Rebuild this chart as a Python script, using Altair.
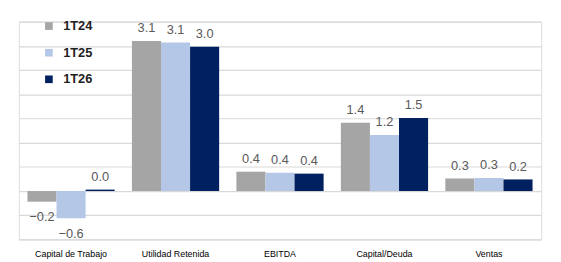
import altair as alt
import pandas as pd

categories = ["Capital de Trabajo", "Utilidad Retenida", "EBITDA", "Capital/Deuda", "Ventas"]
series = ["1T24", "1T25", "1T26"]
v_1t24 = [-0.22, 3.10, 0.40, 1.41, 0.26]
v_1t25 = [-0.56, 3.07, 0.38, 1.16, 0.27]
v_1t26 = [0.03, 2.98, 0.36, 1.51, 0.24]
colors = ["#a5a5a5", "#b4c7e7", "#002060"]

rows = []
for s, vals in zip(series, [v_1t24, v_1t25, v_1t26]):
    for c, v in zip(categories, vals):
        rows.append({"cat": c, "serie": s, "val": v})
df = pd.DataFrame(rows)

x = alt.X("cat:N", sort=categories, title=None,
          scale=alt.Scale(paddingInner=0.165, paddingOuter=0.0825),
          axis=alt.Axis(labelAngle=0, domain=False, ticks=False, labelPadding=10,
                        labelFontSize=9, labelColor="#000000", labelFont="Liberation Sans"))
y = alt.Y("val:Q", title=None,
          scale=alt.Scale(domain=[-1, 3.5], nice=False, zero=False),
          axis=alt.Axis(values=[-1, -0.5, 0, 0.5, 1, 1.5, 2, 2.5, 3, 3.5], labels=False,
                        ticks=False, domain=False, gridColor="#d9d9d9", gridWidth=1.2))
xo = alt.XOffset("serie:N", sort=series, scale=alt.Scale(paddingInner=0, paddingOuter=0))

base = alt.Chart(df)
bars = base.mark_bar().encode(
    x=x, y=y, xOffset=xo,
    color=alt.Color("serie:N", sort=series,
                    scale=alt.Scale(domain=series, range=colors),
                    legend=alt.Legend(title=None, orient="none", legendX=24, legendY=-2,
                                      symbolType="square", symbolSize=60, symbolStrokeWidth=0,
                                      labelFontSize=13, labelFontWeight="bold", labelColor="#222222",
                                      labelFont="Liberation Sans", rowPadding=13, padding=0,
                                      labelOffset=8)),
)
pos = base.transform_filter("datum.val >= 0").mark_text(
    dy=-13, fontSize=13, color="#595959", font="Liberation Sans"
).encode(x=x, y=y, xOffset=xo, text=alt.Text("val:Q", format=".1f"))
neg = base.transform_filter("datum.val < 0").mark_text(
    dy=16, fontSize=13, color="#595959", font="Liberation Sans"
).encode(x=x, y=y, xOffset=xo, text=alt.Text("val:Q", format=".1f"))

chart = alt.layer(bars, pos, neg).properties(
    width=530, height=221,
    autosize=alt.AutoSizeParams(type="none"),
    padding={"left": 11, "top": 12, "right": 12, "bottom": 20},
).configure_view(stroke=None).configure(background="#ffffff")

chart.save("out.html", embed_options={"renderer": "svg", "actions": False})
